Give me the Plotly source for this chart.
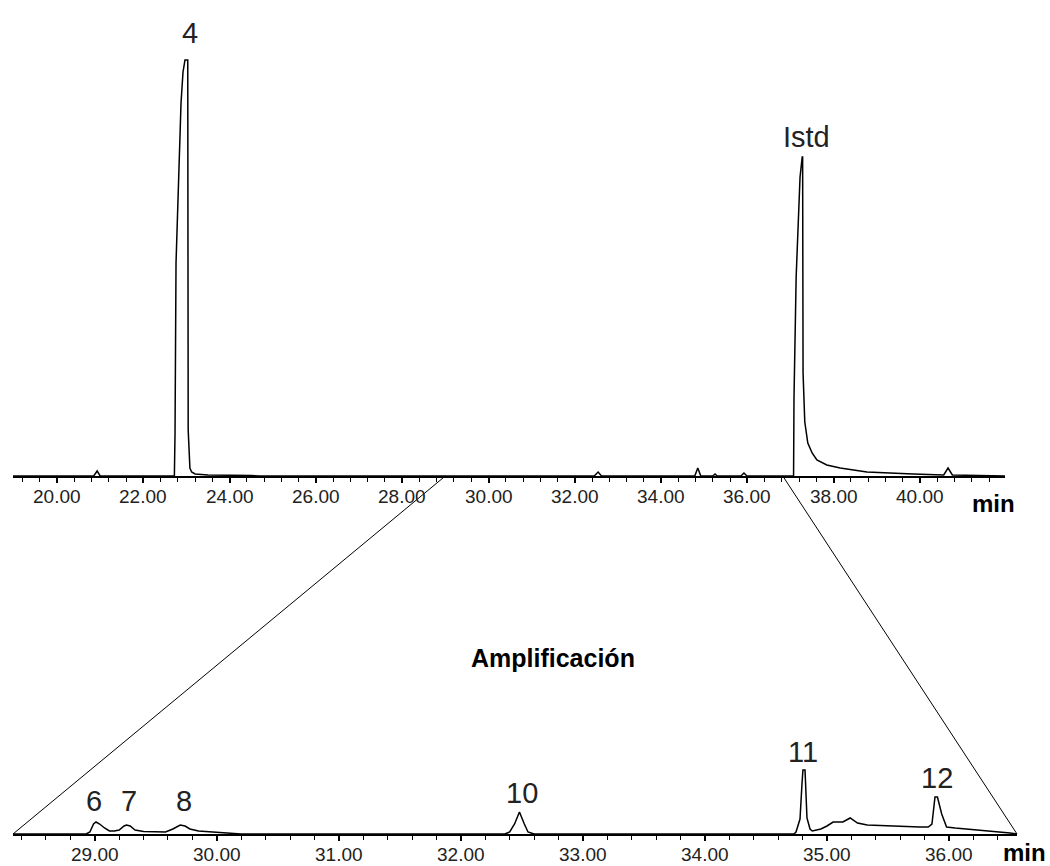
import plotly.graph_objects as go

# ---------------- data (intensity in arbitrary units) ----------------
top_time = [18.98, 20.85, 20.93, 21.00, 22.72, 22.735, 22.758, 22.827, 22.874, 22.92,
            22.966, 23.03, 23.04, 23.08, 23.12, 23.20, 23.50, 24.50, 24.70,
            32.45, 32.54, 32.62, 34.78, 34.85, 34.92, 35.20, 35.25, 35.30,
            35.85, 35.92, 35.99, 37.07, 37.08, 37.13, 37.17, 37.22, 37.27, 37.28,
            37.29, 37.33, 37.40, 37.50, 37.61, 37.84, 38.15, 38.77, 39.84,
            40.55, 40.65, 40.75, 41.97]
top_signal = [0, 0, 5, 0, 0, 43, 213, 311, 373, 404,
              416, 416, 46, 8, 4, 2, 1, 0.5, 0,
              0, 4, 0, 0, 8, 0, 0, 2, 0,
              0, 3, 0, 0, 79, 199, 253, 299, 319, 319,
              103, 54, 33, 23, 16, 11, 8, 4, 2,
              1, 8, 1, 0]

bot_time = [28.33, 28.93, 28.96, 28.99, 29.01, 29.04, 29.08, 29.12, 29.16, 29.20,
            29.24, 29.26, 29.29, 29.33, 29.40, 29.50, 29.58, 29.64, 29.70, 29.74,
            29.78, 29.85, 29.95, 30.02, 30.10, 30.20,
            32.36, 32.40, 32.44, 32.48, 32.52, 32.55, 32.60,
            34.73, 34.746, 34.779, 34.795, 34.803, 34.82, 34.836, 34.861, 34.88,
            34.95, 35.00, 35.05, 35.13, 35.19, 35.25, 35.33, 35.50, 35.76, 35.83,
            35.86, 35.885, 35.905, 35.94, 35.98, 36.05, 36.15, 36.36, 36.50, 36.557]
bot_signal = [0, 0, 2, 10, 12, 10, 6, 3, 3, 4,
              8, 9, 8, 4, 2.5, 2, 2, 5, 9, 8,
              5, 3, 2, 2, 0.5, 0,
              0, 2, 10, 22, 10, 2, 0,
              0, 2, 15, 50, 64, 64, 16, 5, 3,
              5, 8, 12, 12, 16, 11, 9, 8, 7, 7,
              10, 37, 37, 20, 7, 6, 5, 3, 1, 0]

top_labels = ["4", "Istd"]
top_label_t = [23.08, 37.36]
top_label_y = [443, 339]

bot_labels = ["6", "7", "8", "10", "11", "12"]
bot_label_t = [28.99, 29.28, 29.73, 32.50, 34.80, 35.90]
bot_label_y = [33, 33, 33, 41, 82, 56]

top_ticks = [20, 22, 24, 26, 28, 30, 32, 34, 36, 38, 40]
bot_ticks = [29, 30, 31, 32, 33, 34, 35, 36]

zoom_window_top = [29.0, 36.82]

top_range = [18.98, 41.97]
bot_range = [28.33, 36.557]

assert len(top_time) == len(top_signal)
assert len(bot_time) == len(bot_signal)

W, H = 1050, 866
FONT = "Liberation Sans, Arial, sans-serif"

top_dom_x = [13 / W, 1005 / W]
bot_dom_x = [13 / W, 1017 / W]
top_dom_y = [1 - 476 / H, 1.0]
bot_dom_y = [1 - 834 / H, 1 - 700 / H]

fig = go.Figure()
fig.add_trace(go.Scatter(x=top_time, y=top_signal, mode="lines",
                         line=dict(color="black", width=1.5), xaxis="x", yaxis="y",
                         hoverinfo="skip", showlegend=False))
fig.add_trace(go.Scatter(x=bot_time, y=bot_signal, mode="lines",
                         line=dict(color="black", width=1.5), xaxis="x2", yaxis="y2",
                         hoverinfo="skip", showlegend=False))

axis_common = dict(showline=True, linecolor="black", linewidth=2, showgrid=False,
                   zeroline=False, ticks="outside", ticklen=5, tickwidth=1.5,
                   tickcolor="black", showticklabels=False, fixedrange=True)

fig.update_layout(
    width=W, height=H,
    margin=dict(l=0, r=0, t=0, b=0),
    paper_bgcolor="white", plot_bgcolor="white",
    xaxis=dict(domain=top_dom_x, range=top_range, anchor="y",
               tickvals=top_ticks,
               minor=dict(dtick=0.4, tick0=20, ticks="outside", ticklen=4,
                          tickcolor="black", tickwidth=1),
               **axis_common),
    yaxis=dict(domain=top_dom_y, range=[0, 476], visible=False, fixedrange=True),
    xaxis2=dict(domain=bot_dom_x, range=bot_range, anchor="y2",
                tickvals=bot_ticks,
                minor=dict(dtick=0.2, tick0=29, ticks="outside", ticklen=4,
                           tickcolor="black", tickwidth=1),
                **axis_common),
    yaxis2=dict(domain=bot_dom_y, range=[0, 134], visible=False, fixedrange=True),
)

annotations = []
for txt, t, y in zip(top_labels, top_label_t, top_label_y):
    annotations.append(dict(x=t, y=y, xref="x", yref="y", text=txt, showarrow=False,
                            font=dict(family=FONT, size=29, color="#222"),
                            xanchor="center", yanchor="middle"))
for txt, t, y in zip(bot_labels, bot_label_t, bot_label_y):
    annotations.append(dict(x=t, y=y, xref="x2", yref="y2", text=txt, showarrow=False,
                            font=dict(family=FONT, size=29, color="#222"),
                            xanchor="center", yanchor="middle"))
# tick labels (drawn as text so they sit as close to the axis as in the reference)
for t in top_ticks:
    annotations.append(dict(x=t, y=1 - 497 / H, xref="x", yref="paper",
                            text=f"{t:.2f}", showarrow=False,
                            font=dict(family=FONT, size=19, color="#222"),
                            xanchor="center", yanchor="middle"))
for t in bot_ticks:
    annotations.append(dict(x=t, y=1 - 854 / H, xref="x2", yref="paper",
                            text=f"{t:.2f}", showarrow=False,
                            font=dict(family=FONT, size=19, color="#222"),
                            xanchor="center", yanchor="middle"))
annotations.append(dict(x=993 / W, y=1 - 503 / H, xref="paper", yref="paper",
                        text="<b>min</b>", showarrow=False,
                        font=dict(family=FONT, size=24, color="black"),
                        xanchor="center", yanchor="middle"))
annotations.append(dict(x=1024 / W, y=1 - 852 / H, xref="paper", yref="paper",
                        text="<b>min</b>", showarrow=False,
                        font=dict(family=FONT, size=24, color="black"),
                        xanchor="center", yanchor="middle"))
annotations.append(dict(x=553 / W, y=1 - 658 / H, xref="paper", yref="paper",
                        text="<b>Amplificación</b>", showarrow=False,
                        font=dict(family=FONT, size=25, color="black"),
                        xanchor="center", yanchor="middle"))
fig.update_layout(annotations=annotations)


def to_paper(t, rng, dom):
    return dom[0] + (t - rng[0]) / (rng[1] - rng[0]) * (dom[1] - dom[0])


shapes = []
for t_top, t_bot in zip(zoom_window_top, bot_range):
    shapes.append(dict(type="line", xref="paper", yref="paper",
                       x0=to_paper(t_top, top_range, top_dom_x), y0=top_dom_y[0],
                       x1=to_paper(t_bot, bot_range, bot_dom_x), y1=bot_dom_y[0],
                       line=dict(color="black", width=1)))
fig.update_layout(shapes=shapes)

fig.write_html("out.html",
               config={"displayModeBar": False},
               post_script="document.body.style.margin='0';document.body.style.overflow='hidden';")
